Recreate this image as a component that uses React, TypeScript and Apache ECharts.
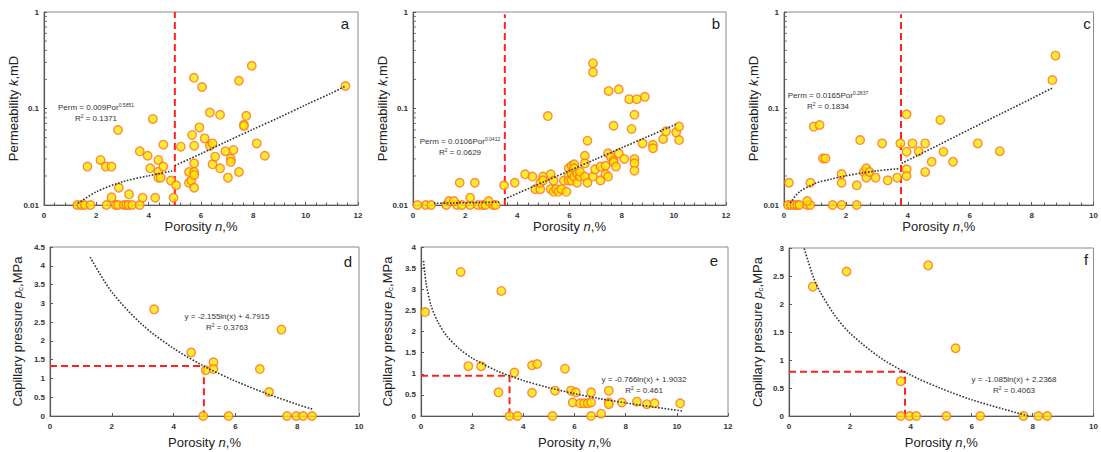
import React, { useEffect, useRef } from 'react';
import * as echarts from 'echarts';

// ---------- data (porosity %, permeability mD / capillary pressure MPa) ----------
const aPoints = [
  [1.27, 0.01], [1.43, 0.01], [1.56, 0.01], [1.78, 0.01], [2.39, 0.01], [2.74, 0.01], [2.83, 0.01], [3.05, 0.01],
  [3.15, 0.01], [3.23, 0.01], [3.37, 0.01], [3.66, 0.01],
  [1.66, 0.025], [2.16, 0.0293], [2.36, 0.025], [2.58, 0.025], [2.83, 0.0598], [2.86, 0.0151], [2.58, 0.012],
  [3.25, 0.0129], [3.77, 0.0119], [3.66, 0.036], [3.96, 0.0324], [4.06, 0.024], [4.16, 0.078], [4.25, 0.0119],
  [4.37, 0.0293], [4.37, 0.0221], [4.37, 0.0192], [4.46, 0.0192], [4.56, 0.025], [4.56, 0.0422], [4.85, 0.0179],
  [4.95, 0.0119], [5.05, 0.016], [5.23, 0.0402], [5.54, 0.022], [5.54, 0.017], [5.63, 0.0179], [5.66, 0.0532],
  [5.73, 0.208], [5.74, 0.0412], [5.74, 0.027], [5.74, 0.022], [5.74, 0.0205], [5.74, 0.0151], [5.94, 0.0637],
  [6.04, 0.167], [6.14, 0.049], [6.34, 0.041], [6.34, 0.091], [6.44, 0.0435], [6.44, 0.0264], [6.54, 0.0317],
  [6.73, 0.086], [6.73, 0.024], [6.93, 0.0361], [7.03, 0.0192], [7.14, 0.0302], [7.14, 0.028], [7.24, 0.0372],
  [7.45, 0.194], [7.45, 0.022], [7.64, 0.068], [7.64, 0.066], [7.73, 0.084], [7.94, 0.277], [8.13, 0.0435],
  [8.44, 0.0324], [11.52, 0.171],
];
const aTrendLeft = [[1.3, 0.0104], [2, 0.0137], [3, 0.0174], [4, 0.0201], [4.9, 0.0225]];
const aTrendRight = [[5, 0.0256], [6, 0.034], [7, 0.0457], [8, 0.061], [9, 0.081], [10, 0.109], [11, 0.145], [11.52, 0.171]];
const aCutoff = 5;
const aCutoffTop = 1;

const bPoints = [
  [0.17, 0.01], [0.49, 0.01], [0.7, 0.01], [1.28, 0.01], [1.69, 0.01], [1.88, 0.01], [2.19, 0.01], [2.49, 0.01],
  [2.67, 0.01], [2.78, 0.01], [3.08, 0.01], [3.17, 0.01],
  [1.38, 0.011], [1.57, 0.011], [2.19, 0.0119], [2.9, 0.011], [1.79, 0.017], [2.37, 0.017], [3.49, 0.016],
  [3.9, 0.017], [4.3, 0.0208], [4.58, 0.0197], [4.69, 0.0146], [4.88, 0.0146], [4.88, 0.017], [4.99, 0.0197],
  [4.99, 0.018], [5.17, 0.0835], [5.28, 0.0208], [5.28, 0.0146], [5.39, 0.0179], [5.39, 0.0137], [5.49, 0.0146],
  [5.58, 0.0137], [5.69, 0.0146], [5.78, 0.0179], [5.88, 0.0137], [5.97, 0.024], [5.97, 0.0197], [5.97, 0.0179],
  [6.08, 0.0255], [6.08, 0.0212], [6.08, 0.0179], [6.18, 0.0264], [6.18, 0.0197], [6.18, 0.024], [6.29, 0.0212],
  [6.29, 0.017], [6.4, 0.0197], [6.4, 0.0221], [6.59, 0.0324], [6.59, 0.027], [6.59, 0.0197], [6.69, 0.0464],
  [6.69, 0.017], [6.9, 0.295], [6.9, 0.238], [6.9, 0.0197], [6.98, 0.0234], [7.19, 0.025], [7.19, 0.018],
  [7.38, 0.0255], [7.38, 0.0208], [7.48, 0.0197], [7.48, 0.0343], [7.5, 0.152], [7.59, 0.0312], [7.69, 0.0288],
  [7.69, 0.0663], [7.69, 0.0277], [7.78, 0.025], [7.89, 0.158], [7.89, 0.0343], [8.1, 0.03], [8.29, 0.125],
  [8.38, 0.0614], [8.49, 0.086], [8.49, 0.03], [8.49, 0.027], [8.49, 0.0227], [8.58, 0.125], [8.8, 0.0435],
  [8.89, 0.132], [9.2, 0.042], [9.2, 0.0387], [9.59, 0.0483], [9.7, 0.058], [10.09, 0.0566], [10.2, 0.0649],
  [10.2, 0.0471],
];
const bTrendLeft = [[0.8, 0.0104], [1.5, 0.0105], [2.5, 0.0106], [3.3, 0.0107]];
const bTrendRight = [[3.5, 0.0115], [5, 0.0173], [6, 0.0227], [7, 0.0298], [8, 0.0391], [9, 0.0512], [10.1, 0.069]];
const bCutoff = 3.52;
const bCutoffTop = 0.95;

const cPoints = [
  [0.13, 0.01], [0.23, 0.01], [0.34, 0.01], [0.43, 0.01], [0.5, 0.01], [0.75, 0.01], [0.85, 0.01], [1.57, 0.01],
  [1.86, 0.01], [2.35, 0.01],
  [0.75, 0.011], [0.16, 0.017], [0.85, 0.017], [0.96, 0.0649], [1.15, 0.0675], [1.26, 0.0304], [1.34, 0.0304],
  [1.86, 0.0209], [1.86, 0.017], [2.35, 0.016], [2.46, 0.0471], [2.58, 0.022], [2.66, 0.024], [2.66, 0.0192],
  [2.76, 0.022], [2.96, 0.0192], [3.17, 0.0435], [3.35, 0.018], [3.66, 0.0192], [3.76, 0.0435], [3.96, 0.087],
  [3.96, 0.0357], [3.96, 0.0234], [3.96, 0.02], [4.15, 0.0435], [4.35, 0.0361], [4.56, 0.0435], [4.56, 0.022],
  [4.77, 0.0281], [5.05, 0.0761], [5.15, 0.0357], [5.46, 0.0281], [6.26, 0.0435], [6.97, 0.0361], [8.67, 0.197],
  [8.77, 0.353],
];
const cTrendLeft = [[0.2, 0.0105], [0.5, 0.0137], [1, 0.0167], [1.5, 0.0185], [2, 0.0201], [2.5, 0.0214], [3, 0.0226], [3.7, 0.0238]];
const cTrendRight = [[3.8, 0.027], [5, 0.042], [6, 0.0609], [7, 0.088], [8, 0.127], [8.7, 0.165]];
const cCutoff = 3.78;
const cCutoffTop = 0.95;

const dPoints = [
  [3.37, 2.84], [4.57, 1.69], [4.96, 0], [5.04, 1.22], [5.29, 1.43], [5.29, 1.25], [5.78, 0], [6.79, 1.25],
  [7.09, 0.64], [7.49, 2.3], [7.67, 0], [7.97, 0], [8.19, 0], [8.48, 0],
];
const dTrend = [[1.3, 4.23], [2, 3.3], [3, 2.42], [4, 1.8], [5, 1.32], [6, 0.93], [7, 0.6], [8, 0.31], [8.5, 0.18]];
const dCut = { x: 4.98, y: 1.33 };

const ePoints = [
  [0.16, 2.46], [1.55, 3.41], [1.85, 1.18], [2.35, 1.18], [3.03, 0.56], [3.14, 2.96], [3.46, 0], [3.65, 1.03],
  [3.77, 0], [4.34, 1.2], [4.34, 0.55], [4.54, 1.23], [5.14, 0], [5.24, 0.6], [5.63, 1.12], [5.86, 0.6],
  [5.93, 0.32], [6.05, 0.56], [6.22, 0.3], [6.37, 0.3], [6.52, 0.3], [6.65, 0.32], [6.65, 0.56], [6.65, 0],
  [7.04, 0.055], [7.34, 0.6], [7.34, 0.32], [7.34, 0.28], [7.85, 0.32], [8.44, 0.34], [8.83, 0.28], [9.13, 0.3],
  [10.13, 0.3],
];
const eTrend = [[0.1, 3.67], [0.2, 3.14], [0.4, 2.6], [0.7, 2.18], [1, 1.9], [1.5, 1.59], [2, 1.37], [3, 1.06], [4, 0.84], [5, 0.67], [6, 0.53], [7, 0.41], [8, 0.31], [9, 0.22], [10.2, 0.12]];
const eCut = { x: 3.46, y: 0.95 };

const fPoints = [
  [0.78, 2.31], [1.89, 2.58], [4.57, 2.69], [5.47, 1.21], [3.67, 0.62], [3.67, 0], [3.96, 0], [4.18, 0],
  [5.17, 0], [6.28, 0], [7.7, 0], [8.19, 0], [8.48, 0],
];
const fTrend = [[0.5, 2.99], [0.8, 2.48], [1, 2.24], [1.5, 1.8], [2, 1.48], [3, 1.04], [4, 0.73], [5, 0.49], [6, 0.29], [7, 0.13], [7.85, 0]];
const fCut = { x: 3.81, y: 0.79 };

const logMinorTicks = [0.02, 0.03, 0.04, 0.05, 0.06, 0.07, 0.08, 0.09, 0.2, 0.3, 0.4, 0.5, 0.6, 0.7, 0.8, 0.9];

// ---------- styles ----------
const FONT = "'Liberation Sans', Arial, sans-serif";
const AXIS_COLOR = '#595959';
const LABEL = { fontSize: 8, color: '#333', fontFamily: FONT, fontWeight: 'bold' as const };
const NAME_RICH = {
  n: { fontSize: 13, fontFamily: FONT, color: '#222' },
  i: { fontSize: 13, fontFamily: FONT, color: '#222', fontStyle: 'italic' as const },
  s: { fontSize: 8, fontFamily: FONT, color: '#222', verticalAlign: 'bottom' as const, padding: [6, 0, 0, 0] },
};
const DOT = { color: '#FFE800', borderColor: '#FF7020', borderWidth: 1.4 };
const TREND = { color: '#333', width: 1.6, type: 'dotted' as const };
const CUT = { color: '#FF2020', width: 2, type: [7, 4] as number[] };

const grids = [
  { left: 44, top: 12, width: 314, height: 193 },
  { left: 413, top: 12, width: 313, height: 193 },
  { left: 784, top: 12, width: 313, height: 193 },
  { left: 50, top: 247, width: 309, height: 169 },
  { left: 421, top: 247, width: 307, height: 169 },
  { left: 789, top: 248, width: 307, height: 168 },
];

const xMaxes = [12, 12, 10, 10, 12, 10];
const yMaxes = [1, 1, 1, 4.5, 4, 3];
const yNameGaps = [20, 20, 21, 26, 27, 25];
const xNameGaps = [15, 15, 15, 20, 20, 20];

function App() {
  const ref = useRef<HTMLDivElement>(null);
  useEffect(() => {
    document.body.style.margin = '0';
    const chart = echarts.init(ref.current!, null, { renderer: 'svg' });

    const xAxis = grids.map((_, i) => ({
      type: 'value',
      gridIndex: i,
      min: 0,
      max: xMaxes[i],
      interval: 2,
      name: '{n|Porosity }{i|n}{n|,%}',
      nameLocation: 'middle',
      nameGap: xNameGaps[i],
      nameTextStyle: { rich: NAME_RICH },
      axisLine: { show: true, lineStyle: { color: AXIS_COLOR, width: 1.2 } },
      axisTick: { show: true, inside: true, length: 3, lineStyle: { color: AXIS_COLOR } },
      minorTick: { show: i < 3, splitNumber: 5, length: 2.5, lineStyle: { color: AXIS_COLOR } },
      splitLine: { show: false },
      axisLabel: { ...LABEL, margin: 6 },
    }));

    const yAxis = grids.map((_, i) => {
      const common = {
        gridIndex: i,
        nameLocation: 'middle',
        nameGap: yNameGaps[i],
        nameTextStyle: { rich: NAME_RICH },
        axisLine: { show: true, lineStyle: { color: AXIS_COLOR, width: 1.2 } },
        axisTick: { show: true, inside: true, length: 3, lineStyle: { color: AXIS_COLOR } },
        splitLine: { show: false },
        axisLabel: { ...LABEL, margin: 5 },
      };
      if (i < 3) {
        return {
          ...common,
          type: 'log',
          logBase: 10,
          min: 0.01,
          max: 1,
          name: '{n|Permeability }{i|k}{n|,mD}',
          axisLabel: {
            ...common.axisLabel,
            formatter: (v: number) => (v >= 1 ? '1' : v >= 0.1 ? '0.1' : '0.01'),
          },
        };
      }
      return {
        ...common,
        type: 'value',
        min: 0,
        max: yMaxes[i],
        interval: 0.5,
        name: '{n|Capillary pressure }{i|p}{s|c}{n|,MPa}',
      };
    });

    const scatter = (i: number, data: number[][]) => ({
      type: 'scatter',
      xAxisIndex: i,
      yAxisIndex: i,
      data,
      symbolSize: 8.5,
      itemStyle: DOT,
      z: 5,
      silent: true,
    });
    const line = (i: number, data: number[][], style: any, smooth = 0.3) => ({
      type: 'line',
      xAxisIndex: i,
      yAxisIndex: i,
      data,
      symbol: 'none',
      smooth,
      lineStyle: style,
      z: style === TREND ? 6 : 4,
      silent: true,
    });
    const minor = (i: number) => ({
      type: 'scatter',
      xAxisIndex: i,
      yAxisIndex: i,
      data: logMinorTicks.map((v) => [0, v]),
      symbol: 'rect',
      symbolSize: [3, 1],
      symbolOffset: [1.5, 0],
      itemStyle: { color: AXIS_COLOR },
      z: 3,
      silent: true,
    });

    const series: any[] = [
      minor(0), minor(1), minor(2),
      line(0, [[aCutoff, 0.01], [aCutoff, aCutoffTop]], CUT, 0),
      line(1, [[bCutoff, 0.01], [bCutoff, bCutoffTop]], CUT, 0),
      line(2, [[cCutoff, 0.01], [cCutoff, cCutoffTop]], CUT, 0),
      line(3, [[0, dCut.y], [dCut.x, dCut.y], [dCut.x, 0]], CUT, 0),
      line(4, [[0, eCut.y], [eCut.x, eCut.y], [eCut.x, 0]], CUT, 0),
      line(5, [[0, fCut.y], [fCut.x, fCut.y], [fCut.x, 0]], CUT, 0),
      scatter(0, aPoints), scatter(1, bPoints), scatter(2, cPoints),
      scatter(3, dPoints), scatter(4, ePoints), scatter(5, fPoints),
      line(0, aTrendLeft, TREND), line(0, aTrendRight, TREND),
      line(1, bTrendLeft, TREND), line(1, bTrendRight, TREND),
      line(2, cTrendLeft, TREND), line(2, cTrendRight, TREND),
      line(3, dTrend, TREND), line(4, eTrend, TREND), line(5, fTrend, TREND),
    ];

    const eqRich = {
      t: { fontSize: 8, fontFamily: FONT, fill: '#333', lineHeight: 11 },
      u: { fontSize: 5, fontFamily: FONT, fill: '#333', verticalAlign: 'top', lineHeight: 11 },
    };
    const eq = (x: number, y: number, text: string) => ({
      type: 'text',
      x,
      y,
      z: 20,
      style: { text, rich: eqRich, align: 'center', verticalAlign: 'top' },
    });
    const letter = (x: number, y: number, t: string) => ({
      type: 'text',
      x,
      y,
      z: 20,
      style: { text: t, fontSize: 15, fontFamily: FONT, fill: '#222', align: 'center', verticalAlign: 'middle' },
    });

    chart.setOption({
      animation: false,
      backgroundColor: '#fff',
      grid: grids.map((g) => ({ ...g, show: true, borderColor: '#8a8a8a', borderWidth: 1, backgroundColor: 'transparent' })),
      xAxis,
      yAxis,
      series,
      graphic: [
        letter(345, 23, 'a'), letter(716, 23, 'b'), letter(1087, 23, 'c'),
        letter(348, 261, 'd'), letter(714, 260, 'e'), letter(1086, 259, 'f'),
        eq(96, 102, '{t|Perm = 0.009Por}{u|0.5851}\n{t|R}{u|2}{t| = 0.1371}'),
        eq(460, 136, '{t|Perm = 0.0106Por}{u|0.0412}\n{t|R}{u|2}{t| = 0.0629}'),
        eq(828, 90, '{t|Perm = 0.0165Por}{u|0.2837}\n{t|R}{u|2}{t| = 0.1834}'),
        eq(227, 311, '{t|y = -2.155ln(x) + 4.7915}\n{t|R}{u|2}{t| = 0.3763}'),
        eq(644, 374, '{t|y = -0.766ln(x) + 1.9032}\n{t|R}{u|2}{t| = 0.461}'),
        eq(1014, 374, '{t|y = -1.085ln(x) + 2.2368}\n{t|R}{u|2}{t| = 0.4063}'),
      ],
    });
    return () => chart.dispose();
  }, []);
  return <div ref={ref} style={{ width: 1101, height: 452 }} />;
}

export default App;
